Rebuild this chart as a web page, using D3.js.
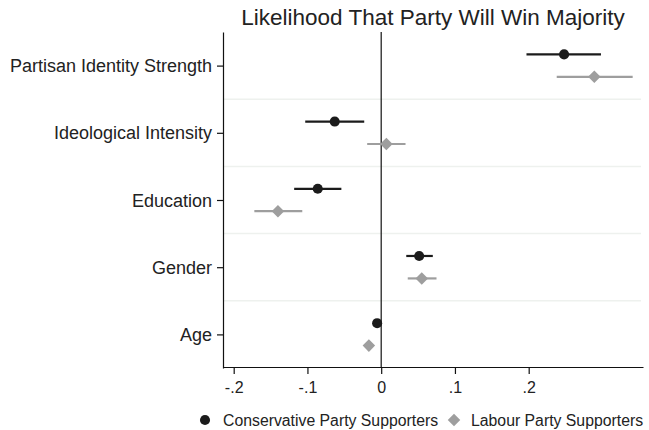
<!DOCTYPE html>
<html>
<head>
<meta charset="utf-8">
<script src="https://cdn.jsdelivr.net/npm/d3@7"></script>
<style>
  html, body { margin: 0; padding: 0; background: #fff; }
  svg { display: block; font-family: "Liberation Sans", Arial, Helvetica, sans-serif; }
</style>
</head>
<body>
<svg id="chart" width="649" height="430"></svg>
<script>
// Coefficient estimates with confidence intervals, by predictor and party
const categories = ["Partisan Identity Strength", "Ideological Intensity", "Education", "Gender", "Age"];
const conservativeEst = [0.248, -0.063, -0.086, 0.0515, -0.0055];
const conservativeLo  = [0.197, -0.103, -0.118, 0.034, -0.0075];
const conservativeHi  = [0.298, -0.023, -0.054, 0.070, -0.0035];
const labourEst = [0.289, 0.007, -0.140, 0.055, -0.0167];
const labourLo  = [0.238, -0.019, -0.172, 0.036, -0.0185];
const labourHi  = [0.341, 0.033, -0.107, 0.075, -0.0150];
const xTicks = [-0.2, -0.1, 0, 0.1, 0.2];
const xTickLabels = ["-.2", "-.1", "0", ".1", ".2"];
const seriesNames = ["Conservative Party Supporters", "Labour Party Supporters"];
const titleText = "Likelihood That Party Will Win Majority";

const svg = d3.select("#chart");
const margin = { left: 223, right: 6, top: 32, bottom: 63 };
const W = 649, H = 430;
const plotLeft = margin.left, plotRight = W - margin.right;
const plotTop = margin.top, plotBottom = H - margin.bottom;

const x = d3.scaleLinear().domain([-0.2145, 0.355]).range([plotLeft, plotRight]);
const y = d3.scaleLinear().domain([0.5, 5.5]).range([plotTop, plotBottom + 1]);
const offset = 0.167;

const textColor = "#222";
const darkColor = "#1b1b1b";
const greyColor = "#9e9e9e";
const fontFamily = "Liberation Sans, Arial, sans-serif";

// light separators between categories
const g = svg.append("g");
g.selectAll("line.sep")
  .data(d3.range(1.5, categories.length, 1))
  .join("line")
  .attr("x1", plotLeft).attr("x2", plotRight - 2)
  .attr("y1", d => y(d)).attr("y2", d => y(d))
  .attr("stroke", "#eef1ee").attr("stroke-width", 1.5);

// zero reference line
g.append("line")
  .attr("x1", x(0)).attr("x2", x(0))
  .attr("y1", plotTop).attr("y2", plotBottom)
  .attr("stroke", "#111").attr("stroke-width", 1.2);

// axes
const xAxis = d3.axisBottom(x).tickValues(xTicks)
  .tickFormat((d, i) => xTickLabels[i]).tickSize(7).tickSizeOuter(0);
const gx = svg.append("g").attr("transform", `translate(0,${plotBottom})`).call(xAxis);
gx.select(".domain").attr("stroke", "#111").attr("stroke-width", 1.2);
gx.selectAll(".tick line").attr("stroke", "#111").attr("stroke-width", 1.2);
gx.selectAll(".tick text").attr("fill", textColor).attr("font-size", 16)
  .attr("font-family", fontFamily).attr("y", 25.5).attr("dy", null);

const yAxis = d3.axisLeft(y).tickValues(d3.range(1, categories.length + 1))
  .tickFormat(d => categories[d - 1]).tickSize(6).tickSizeOuter(0);
const gy = svg.append("g").attr("transform", `translate(${plotLeft},0)`).call(yAxis);
gy.select(".domain").attr("stroke", "#111").attr("stroke-width", 1.2);
gy.selectAll(".tick line").attr("stroke", "#111").attr("stroke-width", 1.2);
gy.selectAll(".tick text").attr("fill", textColor).attr("font-size", 18)
  .attr("font-family", fontFamily).attr("x", -11).attr("dy", "0.34em");

// series marks
const series = [
  { name: seriesNames[0], est: conservativeEst, lo: conservativeLo, hi: conservativeHi, color: darkColor, shift: -offset, symbol: d3.symbolCircle, size: 80 },
  { name: seriesNames[1], est: labourEst, lo: labourLo, hi: labourHi, color: greyColor, shift: offset, symbol: d3.symbolDiamond2, size: 100 }
];

series.forEach(s => {
  const rows = categories.map((c, i) => ({ pos: i + 1 + s.shift, est: s.est[i], lo: s.lo[i], hi: s.hi[i] }));
  const sg = svg.append("g");
  sg.selectAll("line")
    .data(rows).join("line")
    .attr("x1", d => x(d.lo)).attr("x2", d => x(d.hi))
    .attr("y1", d => y(d.pos)).attr("y2", d => y(d.pos))
    .attr("stroke", s.color).attr("stroke-width", 2.2);
  sg.selectAll("path")
    .data(rows).join("path")
    .attr("transform", d => `translate(${x(d.est)},${y(d.pos)})`)
    .attr("d", d3.symbol().type(s.symbol).size(s.size))
    .attr("fill", s.color);
});

// title
svg.append("text")
  .attr("x", (plotLeft + plotRight) / 2).attr("y", 25)
  .attr("text-anchor", "middle")
  .attr("font-size", 22.5).attr("fill", textColor)
  .text(titleText);

// legend
const legend = svg.append("g");
const legendItems = [
  { name: seriesNames[0], color: darkColor, symbol: d3.symbolCircle, size: 80, sx: 205, tx: 223 },
  { name: seriesNames[1], color: greyColor, symbol: d3.symbolDiamond2, size: 100, sx: 454, tx: 471 }
];
legendItems.forEach(it => {
  legend.append("path")
    .attr("transform", `translate(${it.sx},420)`)
    .attr("d", d3.symbol().type(it.symbol).size(it.size))
    .attr("fill", it.color);
  legend.append("text")
    .attr("x", it.tx).attr("y", 425.5)
    .attr("font-size", 15.8).attr("fill", textColor)
    .text(it.name);
});
</script>
</body>
</html>
